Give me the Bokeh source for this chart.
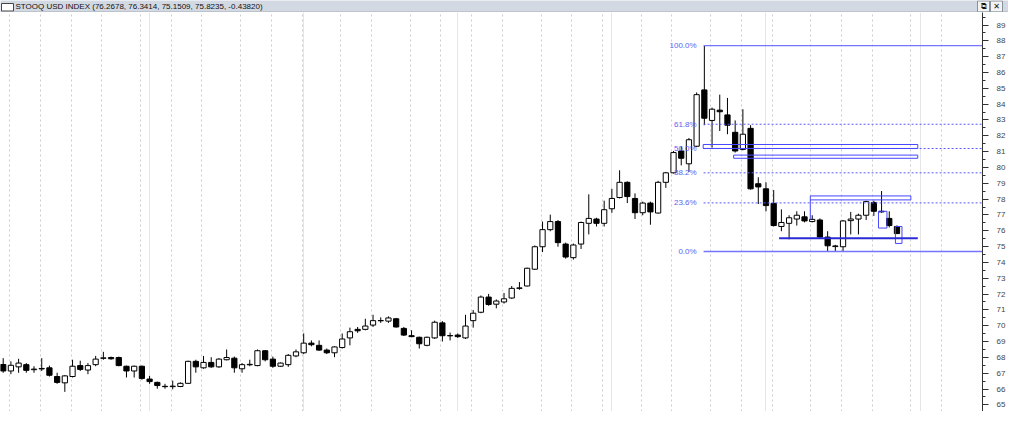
from bokeh.plotting import figure
from bokeh.layouts import column
from bokeh.models import ColumnDataSource, SingleIntervalTicker, FixedTicker, Grid, Range1d
from bokeh.core.properties import value
from bokeh.embed import file_html
from bokeh.resources import INLINE

title_text = "STOOQ USD INDEX (76.2678, 76.3414, 75.1509, 75.8235, -0.43820)"

# weekly candles
opens = [67.55, 67.14, 67.40, 67.54, 67.22, 67.27, 67.34, 66.79, 66.39, 66.79,
         67.48, 67.20, 67.54, 67.94, 67.99, 67.99, 67.44, 67.14, 67.44, 66.63,
         66.42, 66.17, 66.15, 66.16, 66.36, 67.75, 67.34, 67.68, 67.40, 67.85,
         67.95, 67.28, 67.53, 67.48, 68.42, 67.89, 67.44, 67.54, 68.09, 68.29,
         68.90, 68.76, 68.46, 68.29, 68.62, 69.23, 69.77, 69.77, 70.04, 70.31,
         70.29, 70.44, 69.83, 69.37, 69.27, 68.76, 69.23, 70.18, 69.36, 69.41,
         69.23, 70.32, 70.85, 71.81, 71.36, 71.50, 71.75, 72.36, 72.51, 73.57,
         74.99, 76.07, 76.58, 75.16, 74.30, 75.16, 76.47, 76.74, 76.47, 77.39,
         78.10, 79.06, 78.04, 77.14, 77.75, 77.12, 79.06, 79.66, 81.04, 80.23,
         81.34, 84.90, 82.97, 83.62, 83.32, 82.22, 81.14, 82.47, 78.97, 78.65,
         77.73, 76.27, 76.47, 76.74, 76.88, 76.58, 76.68, 75.60, 75.00, 74.99,
         76.64, 76.74, 76.98, 77.79, 77.23, 76.78, 76.27]
highs = [67.95, 67.75, 67.91, 67.64, 67.44, 67.95, 67.48, 67.03, 66.87, 67.85,
         67.79, 67.64, 68.09, 68.35, 68.05, 68.05, 67.48, 67.48, 67.48, 66.83,
         66.47, 66.33, 66.53, 66.42, 67.79, 67.85, 68.09, 68.01, 67.95, 68.50,
         68.05, 67.64, 67.85, 68.50, 68.46, 68.05, 67.68, 68.21, 68.50, 69.51,
         69.07, 69.07, 68.56, 68.70, 69.51, 69.88, 69.92, 70.44, 70.69, 70.53,
         70.59, 70.49, 69.92, 69.71, 69.31, 69.31, 70.32, 70.29, 69.57, 69.51,
         70.69, 70.99, 71.91, 72.01, 71.66, 72.07, 72.51, 72.76, 73.67, 75.07,
         76.58, 77.02, 76.68, 75.25, 75.19, 76.58, 78.30, 76.82, 77.90, 78.65,
         79.82, 79.12, 78.36, 77.84, 77.84, 79.15, 79.72, 81.04, 81.34, 81.86,
         84.74, 87.70, 83.78, 84.60, 84.39, 82.97, 83.68, 82.67, 79.38, 79.06,
         78.57, 77.35, 76.98, 77.23, 77.23, 76.98, 76.78, 75.97, 75.11, 76.68,
         77.19, 77.08, 77.90, 77.90, 78.51, 77.23, 76.34]
lows = [67.03, 66.94, 67.03, 67.03, 67.03, 67.14, 66.79, 66.33, 65.82, 66.73,
        67.14, 66.94, 67.44, 67.85, 67.85, 67.44, 66.73, 66.73, 66.59, 66.33,
        66.02, 66.02, 65.98, 66.12, 66.33, 67.03, 67.28, 67.34, 67.34, 67.81,
        67.03, 67.03, 67.44, 67.44, 67.75, 67.34, 67.40, 67.40, 68.01, 68.21,
        68.70, 68.42, 68.21, 68.01, 68.56, 68.76, 69.55, 69.71, 69.92, 70.18,
        70.18, 69.88, 69.35, 69.27, 68.56, 68.70, 69.16, 69.00, 69.07, 69.23,
        69.16, 69.88, 70.79, 71.26, 71.10, 71.40, 71.70, 72.27, 72.48, 73.53,
        74.65, 75.97, 74.99, 74.24, 74.18, 74.85, 75.77, 76.27, 76.27, 77.14,
        78.04, 77.75, 76.74, 76.98, 76.38, 77.08, 78.71, 79.62, 80.13, 79.72,
        81.28, 82.67, 81.25, 82.30, 82.10, 80.94, 81.08, 78.60, 77.69, 77.23,
        76.27, 75.97, 75.46, 76.33, 76.53, 76.53, 75.56, 74.69, 74.72, 74.70,
        75.77, 75.77, 76.68, 76.94, 77.14, 76.21, 75.80]
closes = [67.14, 67.50, 67.64, 67.18, 67.26, 67.30, 66.87, 66.42, 66.83, 67.44,
          67.24, 67.48, 67.89, 67.97, 67.91, 67.48, 67.14, 67.44, 66.67, 66.47,
          66.22, 66.15, 66.18, 66.36, 67.75, 67.40, 67.68, 67.40, 67.89, 67.99,
          67.34, 67.54, 67.56, 68.42, 67.85, 67.44, 67.64, 68.13, 68.35, 68.90,
          68.80, 68.46, 68.29, 68.66, 69.16, 69.62, 69.68, 69.98, 70.32, 70.33,
          70.49, 69.92, 69.41, 69.31, 68.86, 69.27, 70.22, 69.37, 69.38, 69.31,
          69.98, 70.79, 71.81, 71.34, 71.56, 71.70, 72.36, 72.39, 73.63, 74.99,
          76.07, 76.58, 75.25, 74.34, 75.10, 76.52, 76.78, 76.47, 77.33, 78.04,
          79.06, 78.16, 77.14, 77.75, 77.19, 79.06, 79.66, 80.94, 80.58, 81.75,
          84.60, 83.11, 83.68, 83.52, 82.67, 81.04, 82.10, 78.65, 78.77, 77.59,
          76.33, 76.52, 76.82, 76.98, 76.62, 76.72, 75.60, 75.05, 75.04, 76.62,
          76.74, 76.98, 77.84, 77.23, 77.19, 76.33, 75.82]
weeks = list(range(1, len(opens) + 1))

# month separators (week numbers)
month_weeks = [2, 6, 10, 14, 19, 23, 27, 32, 36, 40, 45, 49, 54, 58, 62, 66, 71,
               75, 79, 84, 88, 93, 97, 101, 106, 110, 114, 119, 123]

# fibonacci retracement
fib_low = 74.69
fib_high = 87.70
fib_start = 91.9
fib_ratios = [0.0, 0.236, 0.382, 0.5, 0.618, 1.0]
fib_labels = ["0.0%", "23.6%", "38.2%", "50.0%", "61.8%", "100.0%"]

# drawn boxes
box_left = [91.85, 95.8, 105.75, 114.6, 116.8]
box_right = [119.7, 119.7, 118.8, 115.7, 117.65]
box_bottom = [81.20, 80.58, 77.95, 76.17, 75.20]
box_top = [81.45, 80.78, 78.20, 77.23, 76.27]
support_x = [101.7, 119.7]
support_y = [75.52, 75.52]
leader_x = [105.75, 105.75]
leader_y = [77.95, 76.72]

BLUE = "#5a5aff"
FONT = "Liberation Sans"

# ---- title bar ----
tb = figure(frame_width=1008, frame_height=12, x_range=Range1d(0, 1008), y_range=Range1d(0, 12),
            toolbar_location=None, output_backend="svg",
            min_border_left=0, min_border_right=0, min_border_top=0, min_border_bottom=0,
            x_axis_location=None, y_axis_location=None)
tb.grid.visible = False
tb.outline_line_color = None
tb.background_fill_color = "#d3d9e2"
tb.border_fill_color = "#d3d9e2"
tb.quad(left=[1], right=[13], bottom=[1.5], top=[9], fill_color="white", line_color="#444444")
tb.text(x=[15], y=[6.5], text=[title_text], text_font=value(FONT), text_font_size="8px",
        text_baseline="middle", text_color="#111111")
tb.quad(left=[977, 990], right=[989, 1002], bottom=[0.5, 0.5], top=[11.5, 11.5],
        fill_color="#f2f3f5", line_color="#8a9099")
tb.text(x=[983, 996], y=[6, 6], text=["\u29c9", "\u2715"], text_font=value("DejaVu Sans"),
        text_font_size="8px", text_align="center", text_baseline="middle", text_color="#111111")
tb.line([0, 1008], [0.4, 0.4], line_color="#9aa3ad", line_width=1)

# ---- chart ----
p = figure(width=1008, height=399, x_range=Range1d(0.65, 128.1),
           y_range=Range1d(64.58, 89.79), y_axis_location="right", x_axis_location=None,
           output_backend="svg", toolbar_location=None,
           min_border_left=0, min_border_right=0, min_border_top=0, min_border_bottom=0)
p.outline_line_color = None
p.ygrid.visible = False
p.add_layout(Grid(dimension=0, ticker=FixedTicker(ticks=[w - 0.2 for w in month_weeks]),
                  grid_line_color="#cccccc", grid_line_dash="2 3"))

ax = p.yaxis[0]
ax.ticker = SingleIntervalTicker(interval=1, num_minor_ticks=2)
ax.axis_line_color = "#333333"
ax.major_tick_line_color = "#333333"
ax.minor_tick_line_color = "#333333"
ax.major_tick_out = 6
ax.major_tick_in = 0
ax.minor_tick_out = 3
ax.minor_tick_in = 0
ax.major_label_standoff = 8
ax.major_label_text_font = FONT
ax.major_label_text_font_size = "8px"
ax.major_label_text_color = "#444444"

up = [c >= o for o, c in zip(opens, closes)]
src = ColumnDataSource(dict(
    x=weeks, high=highs, low=lows,
    top=[max(o, c) for o, c in zip(opens, closes)],
    bottom=[min(o, c) for o, c in zip(opens, closes)],
    fill=["white" if u else "black" for u in up],
))
p.segment(x0="x", y0="high", x1="x", y1="low", source=src, line_color="black", line_width=1)
p.vbar(x="x", width=0.68, top="top", bottom="bottom", source=src,
       fill_color="fill", line_color="black", line_width=1)

levels = [fib_low + r * (fib_high - fib_low) for r in fib_ratios]
solid = [lv for r, lv in zip(fib_ratios, levels) if r in (0.0, 1.0)]
dotted = [lv for r, lv in zip(fib_ratios, levels) if r not in (0.0, 1.0)]
p.multi_line(xs=[[fib_start, 130]] * len(solid), ys=[[lv, lv] for lv in solid],
             line_color="#7474ff", line_width=1.3)
p.multi_line(xs=[[fib_start, 130]] * len(dotted), ys=[[lv, lv] for lv in dotted],
             line_color=BLUE, line_width=1, line_dash="2 2")
p.text(x=[fib_start - 0.9] * len(levels), y=levels, text=fib_labels, text_font=value(FONT),
       text_font_size="8px", text_align="right", text_baseline="middle", text_color="#5e5ef2")

p.quad(left=box_left, right=box_right, bottom=box_bottom, top=box_top,
       fill_color=None, line_color="#4646ff", line_width=1)
p.line(leader_x, leader_y, line_color="#4646ff", line_width=1)
p.line(support_x, support_y, line_color="#2a2ad6", line_width=2)

layout = column(tb, p, spacing=0)
open("out.html", "w").write(file_html(layout, INLINE))
